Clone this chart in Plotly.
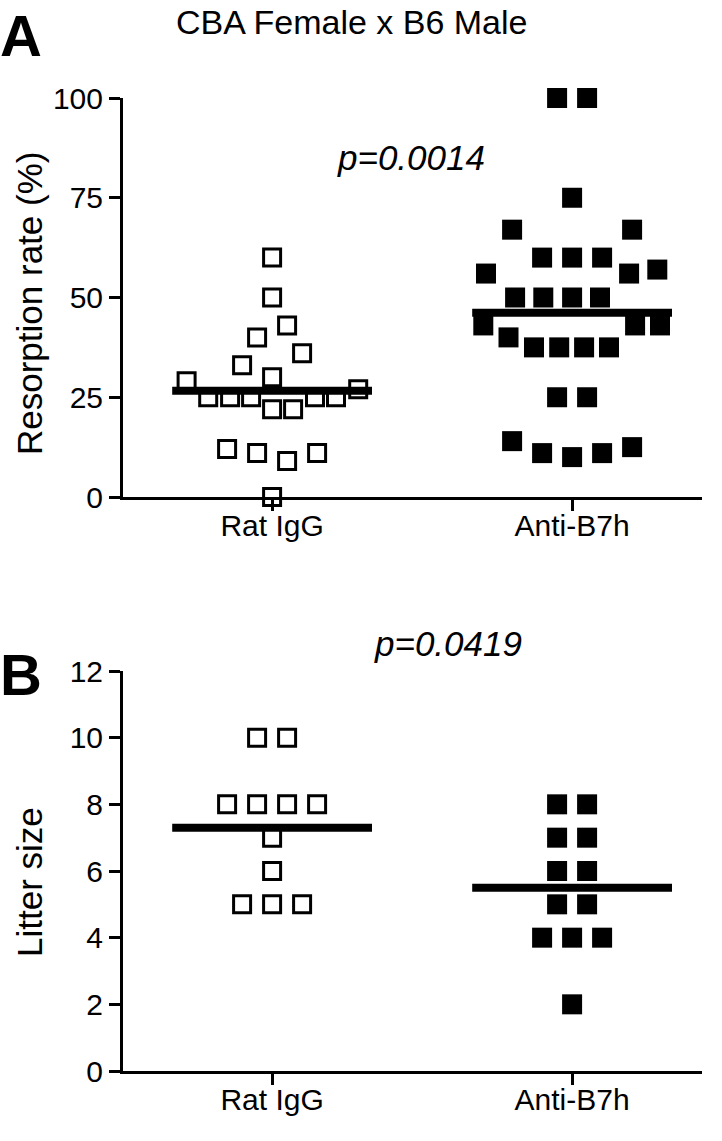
"""
Dot plots: resorption rate and litter size, Rat IgG vs Anti-B7h.
"""

import plotly.graph_objects as go

# Categories
groups = ["Rat IgG", "Anti-B7h"]

# Panel A - resorption rate (%)
rat_resorption = [60, 50, 43, 40, 36, 33, 30, 29, 27, 25, 25, 25, 25, 25,
                  22, 22, 12, 11, 9, 11, 0]
rat_resorption_jitter = [0, 0, 0.05, -0.05, 0.10, -0.10, 0, -0.285, 0.287,
                         -0.213, -0.14, -0.07, 0.143, 0.213, 0, 0.07,
                         -0.15, -0.05, 0.05, 0.15, 0]
anti_resorption = [100, 100, 75, 67, 67, 60, 60, 60, 56, 56, 57, 50, 50, 50, 50,
                   43, 43, 43, 40, 37.5, 37.5, 37.5, 37.5, 25, 25,
                   14, 11, 10, 11, 12.5]
anti_resorption_jitter = [-0.05, 0.05, 0, -0.2, 0.2, -0.1, 0, 0.1, -0.287, 0.19, 0.284,
                          -0.19, -0.096, 0, 0.093, -0.296, 0.21, 0.293, -0.212,
                          -0.127, -0.043, 0.04, 0.123, -0.05, 0.05,
                          -0.2, -0.1, 0, 0.1, 0.2]
means_a = [26.6, 46.2]

# Panel B - litter size
rat_litter = [10, 10, 8, 8, 8, 8, 7, 6, 5, 5, 5]
rat_litter_jitter = [-0.05, 0.05, -0.15, -0.05, 0.05, 0.15, 0, 0, -0.1, 0, 0.1]
anti_litter = [8, 8, 7, 7, 6, 6, 5, 5, 4, 4, 4, 2]
anti_litter_jitter = [-0.05, 0.05, -0.05, 0.05, -0.05, 0.05, -0.05, 0.05, -0.1, 0, 0.1, 0]
means_b = [7.3, 5.5]

p_values = ["p=0.0014", "p=0.0419"]

FONT = "Arial, Liberation Sans, sans-serif"
W, H = 722, 1141
HALF = 0.333  # half-width of the mean bar, in category units


def px_x(p):
    return p / W


def px_y(p):
    return 1 - p / H


fig = go.Figure()


def add_panel(xa, ya, rat, rat_j, anti, anti_j, means):
    fig.add_trace(go.Scatter(
        x=[1 + j for j in rat_j], y=rat, xaxis=xa, yaxis=ya, mode="markers",
        marker=dict(symbol="square-open", size=17, color="black",
                    line=dict(width=3, color="black")),
        cliponaxis=False, showlegend=False, hoverinfo="y",
    ))
    fig.add_trace(go.Scatter(
        x=[2 + j for j in anti_j], y=anti, xaxis=xa, yaxis=ya, mode="markers",
        marker=dict(symbol="square", size=20, color="black", line=dict(width=0)),
        cliponaxis=False, showlegend=False, hoverinfo="y",
    ))
    for i, m in enumerate(means):
        fig.add_trace(go.Scatter(
            x=[i + 1 - HALF, i + 1 + HALF], y=[m, m], xaxis=xa, yaxis=ya,
            mode="lines", line=dict(color="black", width=8),
            cliponaxis=False, showlegend=False, hoverinfo="skip",
        ))


add_panel("x", "y", rat_resorption, rat_resorption_jitter,
          anti_resorption, anti_resorption_jitter, means_a)
add_panel("x2", "y2", rat_litter, rat_litter_jitter,
          anti_litter, anti_litter_jitter, means_b)

xdom = [px_x(123), px_x(702)]
xcommon = dict(
    range=[0.503, 2.433], tickvals=[1, 2], ticktext=groups,
    showline=True, linecolor="black", linewidth=3,
    ticks="outside", ticklen=11, tickwidth=3, tickcolor="black",
    ticklabelstandoff=-11,
    showgrid=False, zeroline=False,
    tickfont=dict(family=FONT, size=30, color="black"),
    domain=xdom, fixedrange=True,
)
ycommon = dict(
    showline=True, linecolor="black", linewidth=3,
    ticks="outside", ticklen=11, tickwidth=3, tickcolor="black",
    showgrid=False, zeroline=False,
    tickfont=dict(family=FONT, size=30, color="black"),
    fixedrange=True,
)

fig.update_layout(
    width=W, height=H,
    margin=dict(l=0, r=0, t=0, b=0, autoexpand=False),
    paper_bgcolor="white", plot_bgcolor="white",
    xaxis=dict(xcommon, anchor="y"),
    yaxis=dict(ycommon, range=[0, 100], dtick=25, anchor="x",
               domain=[px_y(497), px_y(98)]),
    xaxis2=dict(xcommon, anchor="y2"),
    yaxis2=dict(ycommon, range=[0, 12], dtick=2, anchor="x2",
                domain=[px_y(1071), px_y(671)]),
    showlegend=False,
)

annotations = [
    dict(text="CBA Female x B6 Male", x=px_x(351), y=px_y(22),
         font=dict(family=FONT, size=34, color="black")),
    dict(text="<b>A</b>", x=px_x(21), y=px_y(35),
         font=dict(family=FONT, size=58, color="black")),
    dict(text="<b>B</b>", x=px_x(21), y=px_y(675),
         font=dict(family=FONT, size=58, color="black")),
    dict(text="<i>%s</i>" % p_values[0], x=px_x(411), y=px_y(157),
         font=dict(family=FONT, size=35, color="black")),
    dict(text="<i>%s</i>" % p_values[1], x=px_x(448), y=px_y(643),
         font=dict(family=FONT, size=35, color="black")),
    dict(text="Resorption rate (%)", x=px_x(29), y=px_y(304), textangle=-90,
         font=dict(family=FONT, size=35, color="black")),
    dict(text="Litter size", x=px_x(29), y=px_y(882), textangle=-90,
         font=dict(family=FONT, size=35, color="black")),
]
for a in annotations:
    a.update(xref="paper", yref="paper", showarrow=False,
             xanchor="center", yanchor="middle")
fig.update_layout(annotations=annotations)

# drop the default page margin so the figure fills the window exactly
fig.write_html("out.html", config={"displayModeBar": False},
               post_script="document.body.style.margin='0';")
